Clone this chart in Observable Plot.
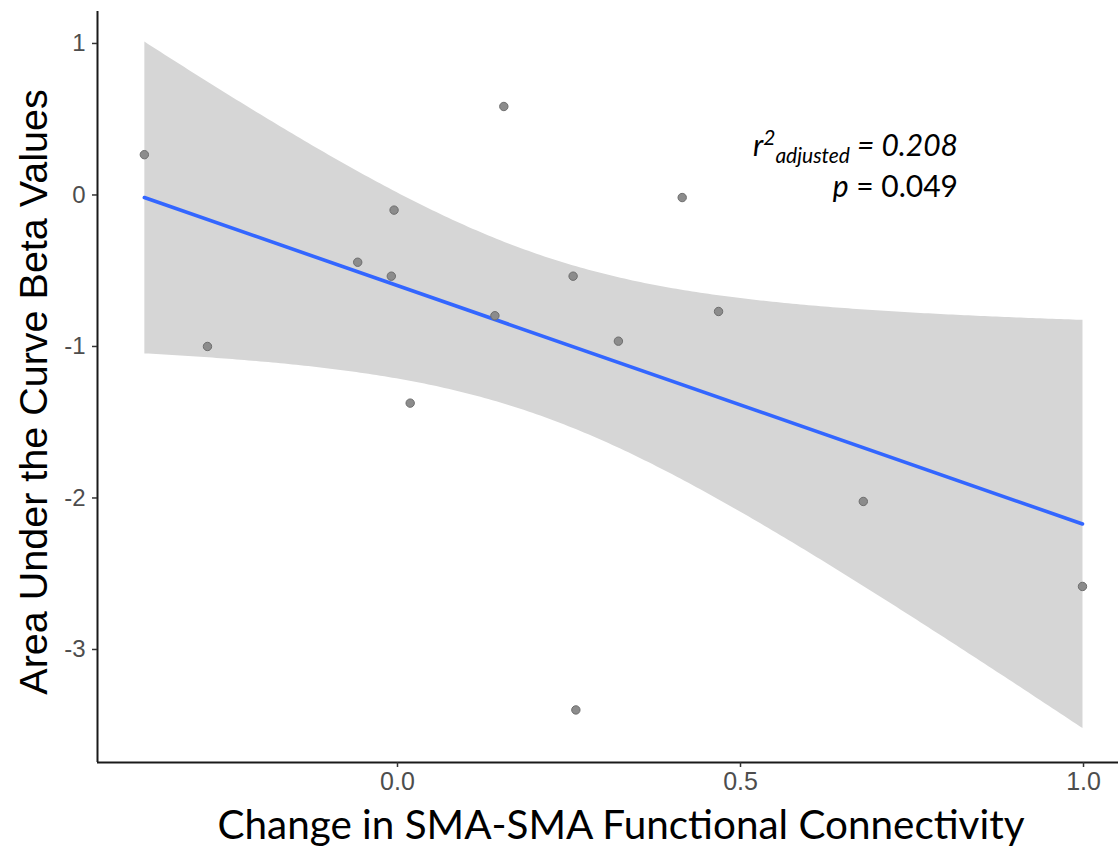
<!DOCTYPE html>
<html>
<head>
<meta charset="utf-8">
<script src="https://cdn.jsdelivr.net/npm/d3@7"></script>
<script src="https://cdn.jsdelivr.net/npm/@observablehq/plot@0.6"></script>
<style>
  html, body { margin: 0; padding: 0; background: #fff; }
  #chart svg { display: block; }
</style>
</head>
<body>
<div id="chart"></div>
<script>
// Data
const connectivityChange = [-0.369, -0.277, -0.058, -0.009, -0.005, 0.0185, 0.142, 0.155, 0.256, 0.260, 0.322, 0.415, 0.468, 0.679, 0.9985];
const aucBeta = [0.266, -1.000, -0.444, -0.536, -0.100, -1.374, -0.797, 0.584, -0.536, -3.399, -0.965, -0.017, -0.769, -2.023, -2.584];
const xTicks = [0.0, 0.5, 1.0];
const yTicks = [1, 0, -1, -2, -3];
const xDomain = [-0.4373, 1.051];
const yDomain = [-3.746, 1.211];
const xTitle = "Change in SMA-SMA Functional Connectivity";
const yTitle = "Area Under the Curve Beta Values";
const statR2 = "0.208";
const statP = "0.049";

const data = connectivityChange.map((x, i) => ({x, y: aucBeta[i]}));

const W = 1118, H = 854;
const chart = Plot.plot({
  width: W,
  height: H,
  marginLeft: 97,
  marginRight: 0,
  marginTop: 11,
  marginBottom: 92,
  style: {fontFamily: "'Liberation Sans', Arial, sans-serif", background: "#fff"},
  x: {domain: xDomain},
  y: {domain: yDomain},
  marks: [
    Plot.linearRegressionY(data, {x: "x", y: "y", ci: 0.95, stroke: "#3366FF", strokeWidth: 3.6, fill: "#d6d6d6", fillOpacity: 1}),
    Plot.dot(data, {x: "x", y: "y", r: 4.2, fill: "#8c8c8c", stroke: "#6e6e6e", strokeWidth: 1}),
    Plot.ruleX([xDomain[0]], {stroke: "#1a1a1a", strokeWidth: 2}),
    Plot.ruleY([yDomain[0]], {stroke: "#1a1a1a", strokeWidth: 2}),
    Plot.axisY({ticks: yTicks, tickFormat: d => String(d), tickSize: 5, tickPadding: 7, fontSize: 24, stroke: "#333333", fill: "#4d4d4d", strokeWidth: 1.5, label: null}),
    Plot.axisX({ticks: xTicks, tickFormat: d3.format(".1f"), tickSize: 5, tickPadding: 5, fontSize: 25, stroke: "#333333", fill: "#4d4d4d", strokeWidth: 1.5, label: null, fontFamily: "'Liberation Sans Narrow', 'Liberation Sans', Arial, sans-serif"})
  ]
});

const svg = d3.select(chart);

// Axis titles
svg.append("text")
  .attr("transform", "translate(47,392) rotate(-90)")
  .attr("text-anchor", "middle")
  .attr("font-family", "'Liberation Sans', Arial, sans-serif")
  .attr("font-size", 39.5)
  .attr("fill", "#000")
  .text(yTitle);

svg.append("text")
  .attr("x", 621)
  .attr("y", 839)
  .attr("text-anchor", "middle")
  .attr("font-family", "Lato, 'Open Sans', sans-serif")
  .attr("font-size", 41)
  .attr("textLength", 807)
  .attr("lengthAdjust", "spacingAndGlyphs")
  .attr("fill", "#000")
  .text(xTitle);

// Statistics annotation
const t1 = svg.append("text")
  .attr("x", 958).attr("y", 156)
  .attr("text-anchor", "end")
  .attr("font-family", "Lato, 'Open Sans', sans-serif")
  .attr("font-size", 30)
  .attr("font-style", "italic")
  .attr("fill", "#000");
t1.append("tspan").text("r");
t1.append("tspan").attr("dy", -11).attr("font-size", 21).text("2");
t1.append("tspan").attr("dy", 18).attr("font-size", 21).text("adjusted");
t1.append("tspan").attr("dy", -7).text(" = " + statR2);

const t2 = svg.append("text")
  .attr("x", 958).attr("y", 197)
  .attr("text-anchor", "end")
  .attr("font-family", "Lato, 'Open Sans', sans-serif")
  .attr("font-size", 30)
  .attr("fill", "#000");
t2.append("tspan").attr("font-style", "italic").text("p");
t2.append("tspan").text(" = " + statP);

document.getElementById("chart").appendChild(chart);
</script>
</body>
</html>
